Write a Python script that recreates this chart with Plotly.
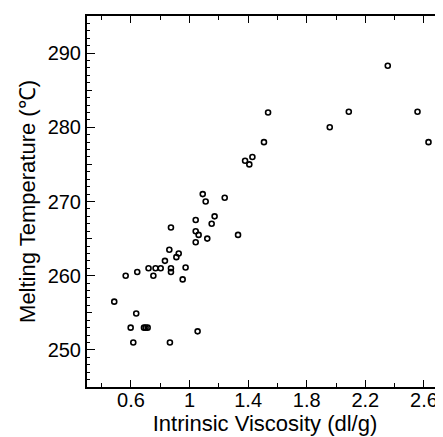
import plotly.graph_objects as go

# Data
viscosity = [0.486, 0.564, 0.598, 0.616, 0.636, 0.643, 0.689, 0.700, 0.714,
             0.720, 0.753, 0.768, 0.803, 0.832, 0.862, 0.873, 0.873, 0.873,
             0.866, 0.910, 0.926, 0.953, 0.973, 1.042, 1.042, 1.062, 1.042,
             1.055, 1.090, 1.110, 1.121, 1.151, 1.171, 1.240, 1.331, 1.379,
             1.408, 1.429, 1.508, 1.536, 1.957, 2.087, 2.353, 2.556, 2.631]
melting_temp = [256.5, 260.0, 253.0, 251.0, 254.9, 260.5, 253.0, 253.0, 253.0,
                261.0, 260.0, 261.0, 261.0, 262.0, 263.5, 266.5, 261.0, 260.5,
                251.0, 262.5, 263.0, 259.5, 261.1, 267.5, 266.0, 265.5, 264.5,
                252.5, 271.0, 270.0, 265.0, 267.0, 268.0, 270.5, 265.5, 275.5,
                275.0, 276.0, 278.0, 282.0, 280.0, 282.1, 288.3, 282.1, 278.0]

x_title = "Intrinsic Viscosity (dl/g)"
y_title = "Melting Temperature (℃)"

FONT = "Liberation Sans, Arial, Helvetica, sans-serif"

fig = go.Figure()
fig.add_trace(go.Scatter(
    x=viscosity, y=melting_temp, mode="markers",
    marker=dict(symbol="circle-open", size=5, color="black", line=dict(width=1.6, color="black")),
    showlegend=False,
))
# invisible trace to activate overlay axis with 5-unit ticks
fig.add_trace(go.Scatter(x=[None], y=[None], yaxis="y2", showlegend=False, hoverinfo="skip"))

# page body has an 8px margin, so the figure is shifted by 8px
fig.update_layout(
    width=435, height=429,
    margin=dict(l=79, r=0, t=8, b=50),
    paper_bgcolor="white", plot_bgcolor="white",
    font=dict(family=FONT, color="black", size=20),
    xaxis=dict(
        range=[0.3, 2.73], tick0=0.2, dtick=0.4,
        ticks="inside", ticklen=7, tickwidth=1, tickcolor="black",
        minor=dict(dtick=0.2, tick0=0.2, ticks="inside", ticklen=4, tickcolor="black", tickwidth=1),
        showline=True, linecolor="black", linewidth=2, mirror="ticks",
        showgrid=False, zeroline=False, automargin=False,
        tickfont=dict(size=20), ticklabelstandoff=-6,
        title=dict(text=x_title, font=dict(size=22), standoff=0),
    ),
    yaxis=dict(
        range=[245, 295], tick0=250, dtick=10,
        ticks="inside", ticklen=8, tickwidth=1, tickcolor="black",
        minor=dict(dtick=1, ticks="inside", ticklen=3, tickcolor="black", tickwidth=1),
        showline=True, linecolor="black", linewidth=2,
        showgrid=False, zeroline=False, automargin=False,
        tickfont=dict(size=20),
        title=dict(text=y_title, font=dict(size=22), standoff=6),
    ),
    yaxis2=dict(
        range=[245, 295], tick0=250, dtick=5, overlaying="y", side="left", anchor="x",
        ticks="inside", ticklen=5, tickwidth=1, tickcolor="black",
        showticklabels=False, showgrid=False, zeroline=False, showline=False,
    ),
)

fig.write_html("out.html")
